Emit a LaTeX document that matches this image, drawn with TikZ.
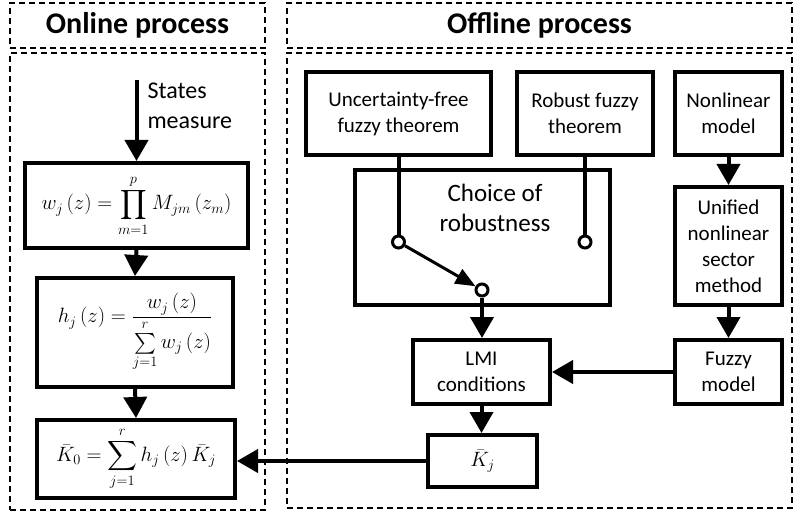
\documentclass[tikz,border=0pt]{standalone}
\usepackage{amsmath}
\usepackage{fontspec}
\setmainfont{Carlito}
\usetikzlibrary{arrows.meta}
\begin{document}
\begin{tikzpicture}[x=1pt,y=-1pt,
  box/.style={draw,line width=4pt,inner sep=0pt,align=center,font=\fontsize{21}{26}\selectfont},
  mathbox/.style={draw,line width=4pt,inner sep=0pt,align=center,font=\fontsize{22}{26}\selectfont},
  frame/.style={draw,line width=1.4pt,dash pattern=on 6pt off 4pt,inner sep=0pt},
  head/.style={font=\fontsize{30}{32}\bfseries\selectfont},
  arr/.style={line width=4pt,-{Triangle[length=21pt,width=23pt]}},
  sw/.style={circle,draw,line width=3pt,minimum size=12pt,inner sep=0pt,fill=white},
  ]
\useasboundingbox (0,0) rectangle (794,513);
% frames
\node[frame,head,minimum width=255pt,minimum height=45pt] (onhead) at (137.5,25.5) {Online process};
\node[frame,minimum width=255pt,minimum height=457pt] (onbody) at (137.5,281.5) {};
\node[frame,head,minimum width=505pt,minimum height=45pt] (offhead) at (539.5,25.5) {Offline process};
\node[frame,minimum width=505pt,minimum height=455pt] (offbody) at (539.5,280.5) {};
% online boxes
\node[mathbox,minimum width=223pt,minimum height=85pt] (w) at (136.5,205.5)
  {$\displaystyle w_j\left(z\right)=\prod_{m=1}^{p}M_{jm}\left(z_m\right)$};
\node[mathbox,minimum width=196pt,minimum height=109pt] (h) at (135,332.5)
  {$\displaystyle h_j\left(z\right)=\frac{w_j\left(z\right)}{\sum\limits_{j=1}^{r}w_j\left(z\right)}$};
\node[mathbox,minimum width=198pt,minimum height=78pt] (k0) at (136,459)
  {$\displaystyle \bar{K}_0=\sum_{j=1}^{r}h_j\left(z\right)\bar{K}_j$};
\coordinate (sm) at (136.5,80);
\node[anchor=west,align=left,font=\fontsize{24}{30}\selectfont] (smt) at (144,106) {States\\measure};
% offline boxes
\node[box,minimum width=185pt,minimum height=83pt] (unc) at (398.5,113.5) {Uncertainty-free\\fuzzy theorem};
\node[box,minimum width=136pt,minimum height=83pt] (rob) at (585,113.5) {Robust fuzzy\\theorem};
\node[box,minimum width=107pt,minimum height=83pt] (nl) at (728.5,113.5) {Nonlinear\\model};
\node[box,minimum width=255pt,minimum height=135pt] (ch) at (482.5,237.5) {};
\node[align=center,font=\fontsize{25}{30}\selectfont] (cht) at (495,208) {Choice of\\robustness};
\node[box,minimum width=107pt,minimum height=118pt] (uni) at (728.5,246) {Unified\\nonlinear\\sector\\method};
\node[box,minimum width=137pt,minimum height=64pt] (lmi) at (481.5,372) {LMI\\conditions};
\node[box,minimum width=107pt,minimum height=64pt] (fz) at (728.5,372) {Fuzzy\\model};
\node[mathbox,minimum width=109pt,minimum height=52pt] (kj) at (482.5,461) {$\bar{K}_j$};
% switch
\node[sw] (c1) at (398.5,242) {};
\node[sw] (c2) at (585,242) {};
\node[sw] (c3) at (482,290) {};
\draw[line width=4pt] (unc.south) -- (c1.north);
\draw[line width=4pt] (rob.south) -- (c2.north);
\draw[line width=3pt,-{Triangle[length=20pt,width=16pt]}] (c1) -- (c3);
% arrows
\draw[arr] (sm) -- (w.north);
\draw[arr] (w.south) -- (h.north);
\draw[arr] (h.south) -- (k0.north);
\draw[arr] (c3.south) -- (c3.south |- lmi.north);
\draw[arr] (nl.south) -- (uni.north);
\draw[arr] (uni.south) -- (fz.north);
\draw[arr] (fz.west) -- (lmi.east);
\draw[arr] (lmi.south) -- (lmi.south |- kj.north);
\draw[arr] (kj.west) -- (kj.west -| k0.east);
\end{tikzpicture}
\end{document}
